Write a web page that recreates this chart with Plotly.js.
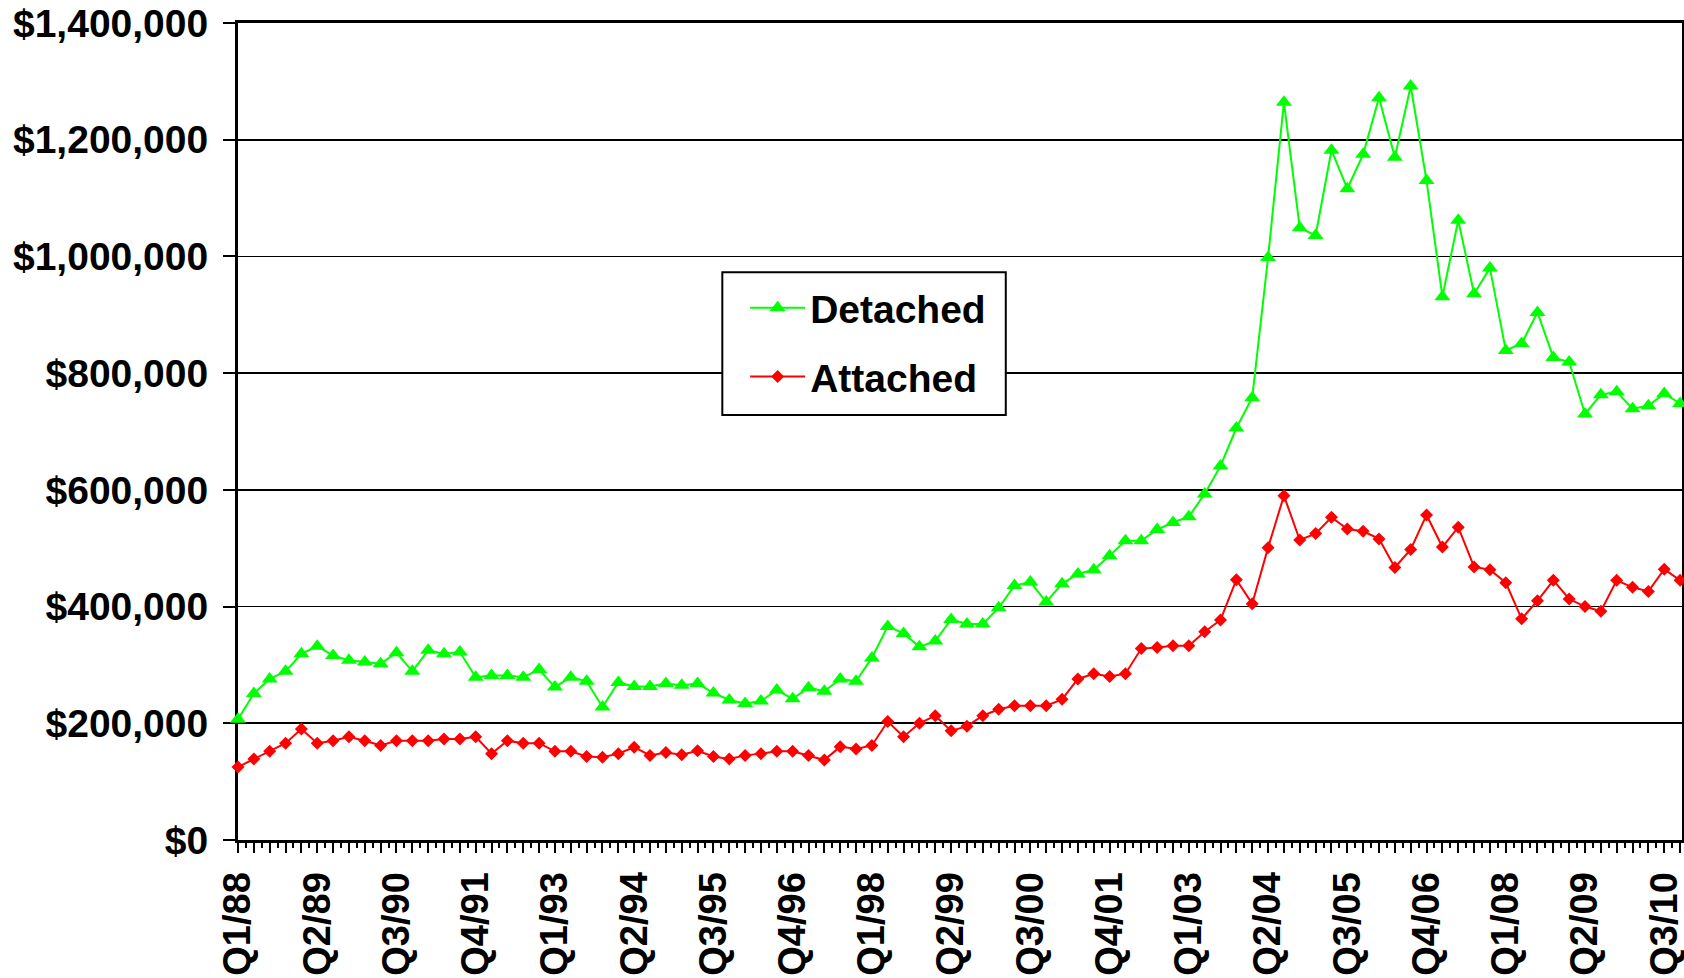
<!DOCTYPE html>
<html>
<head>
<meta charset="utf-8">
<script src="https://cdn.plot.ly/plotly-3.0.1.min.js"></script>
<style>
  html, body { margin: 0; padding: 0; background: #ffffff; }
  #chart { width: 1684px; height: 978px; }
</style>
</head>
<body>
<div id="chart"></div>
<script>
// Quarterly periods Q1/88 .. Q4/10
const quarters = [
  "Q1/88","Q2/88","Q3/88","Q4/88","Q1/89","Q2/89","Q3/89","Q4/89",
  "Q1/90","Q2/90","Q3/90","Q4/90","Q1/91","Q2/91","Q3/91","Q4/91",
  "Q1/92","Q2/92","Q3/92","Q4/92","Q1/93","Q2/93","Q3/93","Q4/93",
  "Q1/94","Q2/94","Q3/94","Q4/94","Q1/95","Q2/95","Q3/95","Q4/95",
  "Q1/96","Q2/96","Q3/96","Q4/96","Q1/97","Q2/97","Q3/97","Q4/97",
  "Q1/98","Q2/98","Q3/98","Q4/98","Q1/99","Q2/99","Q3/99","Q4/99",
  "Q1/00","Q2/00","Q3/00","Q4/00","Q1/01","Q2/01","Q3/01","Q4/01",
  "Q1/02","Q2/02","Q3/02","Q4/02","Q1/03","Q2/03","Q3/03","Q4/03",
  "Q1/04","Q2/04","Q3/04","Q4/04","Q1/05","Q2/05","Q3/05","Q4/05",
  "Q1/06","Q2/06","Q3/06","Q4/06","Q1/07","Q2/07","Q3/07","Q4/07",
  "Q1/08","Q2/08","Q3/08","Q4/08","Q1/09","Q2/09","Q3/09","Q4/09",
  "Q1/10","Q2/10","Q3/10","Q4/10"
];

// Labelled categories on the x axis
const tickLabels = [
  "Q1/88","Q2/89","Q3/90","Q4/91","Q1/93","Q2/94","Q3/95","Q4/96",
  "Q1/98","Q2/99","Q3/00","Q4/01","Q1/03","Q2/04","Q3/05","Q4/06",
  "Q1/08","Q2/09","Q3/10"
];

const detached = [
  207000, 251000, 276000, 289000, 319000, 332000, 316000, 308000,
  305000, 302000, 321000, 289000, 325000, 319000, 322000, 279000,
  282000, 282000, 279000, 292000, 262000, 279000, 272000, 228000,
  270000, 263000, 263000, 268000, 265000, 268000, 252000, 240000,
  234000, 238000, 257000, 242000, 261000, 255000, 276000, 272000,
  312000, 366000, 354000, 331000, 341000, 378000, 370000, 370000,
  398000, 436000, 442000, 408000, 439000, 456000, 463000, 487000,
  513000, 513000, 532000, 544000, 554000, 593000, 641000, 706000,
  758000, 998000, 1264000, 1049000, 1036000, 1182000, 1116000, 1175000,
  1272000, 1170000, 1292000, 1130000, 931000, 1062000, 936000, 980000,
  839000, 851000, 904000, 827000, 819000, 730000, 763000, 768000,
  739000, 744000, 765000, 748000
];

const attached = [
  125000, 139000, 152000, 166000, 190000, 166000, 170000, 177000,
  170000, 162000, 170000, 170000, 170000, 173000, 173000, 177000,
  148000, 170000, 166000, 166000, 152000, 152000, 143000, 142000,
  148000, 159000, 145000, 150000, 146000, 153000, 143000, 139000,
  145000, 148000, 152000, 152000, 145000, 137000, 160000, 156000,
  162000, 203000, 177000, 200000, 213000, 187000, 195000, 213000,
  224000, 230000, 230000, 230000, 241000, 276000, 285000, 280000,
  285000, 328000, 330000, 333000, 333000, 357000, 377000, 446000,
  405000, 501000, 590000, 514000, 525000, 553000, 533000, 529000,
  516000, 467000, 498000, 557000, 502000, 536000, 468000, 463000,
  441000, 379000, 410000, 445000, 413000, 400000, 392000, 445000,
  433000, 426000, 464000, 445000
];

const seriesNames = ["Detached", "Attached"];

const FONT = "Liberation Sans, Arial, Helvetica, sans-serif";
const lastIdx = quarters.length - 1;
const xRange = [0, lastIdx + 0.12];

const traces = [
  {
    type: "scatter", mode: "lines+markers", name: seriesNames[0],
    x: quarters, y: detached, legendgroup: "g1",
    line: { color: "#00ff00", width: 2 },
    marker: { symbol: "triangle-up", size: 14, color: "#00ff00" },
    cliponaxis: false, hoverinfo: "x+y"
  },
  {
    type: "scatter", mode: "lines+markers", name: seriesNames[1],
    x: quarters, y: attached, legendgroup: "g2",
    line: { color: "#ff0000", width: 2 },
    marker: { symbol: "diamond", size: 10, color: "#ff0000" },
    cliponaxis: false, hoverinfo: "x+y"
  },
  {
    type: "scatter", mode: "markers", x: [], y: [], xaxis: "x2",
    showlegend: false, hoverinfo: "skip"
  }
];

const layout = {
  width: 1684, height: 978,
  margin: { l: 238, r: 2, t: 23, b: 138 },
  paper_bgcolor: "#ffffff", plot_bgcolor: "#ffffff",
  font: { family: FONT, color: "#000000" },
  showlegend: true,
  legend: {
    x: 0.3512, y: 0.6903, xanchor: "left", yanchor: "top",
    bgcolor: "rgba(0,0,0,0)", borderwidth: 0,
    font: { family: FONT, size: 39, color: "#000000", weight: "bold" },
    itemwidth: 55, traceorder: "grouped", tracegroupgap: 15
  },
  // legend frame
  shapes: [
    {
      type: "rect", xref: "paper", yref: "paper",
      x0: 0.3354, x1: 0.5317, y0: 0.5202, y1: 0.6949,
      line: { color: "#000000", width: 2 }, fillcolor: "#ffffff", layer: "above"
    }
  ],
  xaxis: {
    type: "category",
    range: xRange,
    tickmode: "array", tickvals: tickLabels, ticktext: tickLabels,
    tickangle: -90,
    tickfont: { family: FONT, size: 38, color: "#000000", weight: "bold" },
    ticks: "", ticklabelstandoff: 14,
    showgrid: false, zeroline: false,
    showline: true, linecolor: "#000000", linewidth: 3, mirror: true,
    layer: "below traces", fixedrange: true
  },
  xaxis2: {
    type: "linear", overlaying: "x", anchor: "y", side: "bottom",
    range: xRange, tick0: 0, dtick: 1,
    ticks: "outside", ticklen: 12, tickwidth: 2, tickcolor: "#000000",
    minor: { tick0: 0.5, dtick: 0.5, ticks: "outside", ticklen: 7, tickwidth: 2, tickcolor: "#000000" },
    showticklabels: false, showgrid: false, zeroline: false, showline: false,
    fixedrange: true
  },
  yaxis: {
    range: [0, 1400000], tick0: 0, dtick: 200000,
    tickformat: "$,.0f",
    tickfont: { family: FONT, size: 39, color: "#000000", weight: "bold" },
    ticks: "outside", ticklen: 12, tickwidth: 2, tickcolor: "#000000",
    ticklabelstandoff: 7,
    showgrid: true, gridcolor: "#000000", gridwidth: 1.6,
    zeroline: false,
    showline: true, linecolor: "#000000", linewidth: 3, mirror: true,
    layer: "below traces", fixedrange: true
  }
};

Plotly.newPlot("chart", traces, layout, { displayModeBar: false, staticPlot: true });
</script>
</body>
</html>
